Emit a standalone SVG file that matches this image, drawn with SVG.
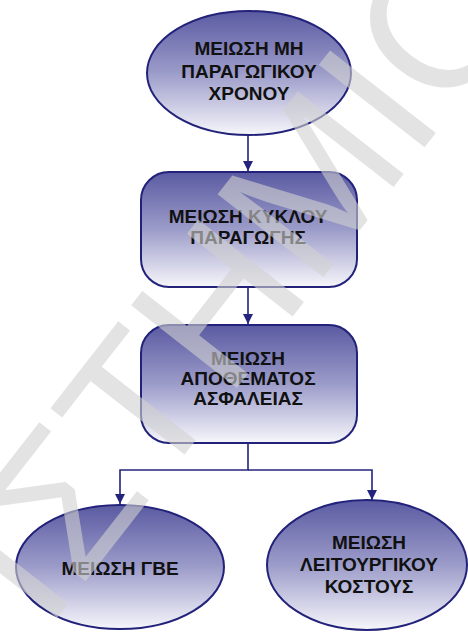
<svg xmlns="http://www.w3.org/2000/svg" width="468" height="632" viewBox="0 0 468 632">
  <defs>
    <linearGradient id="fillGrad" x1="0" y1="0" x2="0" y2="1">
      <stop offset="0" stop-color="#5a5aa2"/>
      <stop offset="0.5" stop-color="#9c9cca"/>
      <stop offset="1" stop-color="#f6f6fb"/>
    </linearGradient>
    <marker id="arrow" markerUnits="userSpaceOnUse" markerWidth="10" markerHeight="10" viewBox="0 0 9 9" refX="9" refY="4.5" orient="auto">
      <path d="M0,0 L9,4.5 L0,9 z" fill="#24247c"/>
    </marker>
    <style>
      .node { fill: url(#fillGrad); stroke: #22227a; stroke-width: 2; }
      .label { font-family: "Liberation Sans", Arial, sans-serif; font-weight: bold; font-size: 19px; fill: #111; text-anchor: middle; }
      .conn { fill: none; stroke: #24247c; stroke-width: 1.6; }
      .mark { font-family: "Liberation Sans", Arial, sans-serif; font-size: 195px; fill: #d2d2d2; opacity: 0.6; }
    </style>
  </defs>
  <rect width="468" height="632" fill="#ffffff"/>

  <g id="connectors">
    <path class="conn" d="M248,135 V171" marker-end="url(#arrow)"/>
    <path class="conn" d="M248,287 V324" marker-end="url(#arrow)"/>
    <path class="conn" d="M248,443 V470 H120 V504" marker-end="url(#arrow)"/>
    <path class="conn" d="M248,470 H372 V500" marker-end="url(#arrow)"/>
  </g>

  <g id="node-idle-time">
    <ellipse class="node" cx="249" cy="73" rx="102" ry="62"/>
    <text class="label" x="249" y="55">ΜΕΙΩΣΗ ΜΗ</text>
    <text class="label" x="249" y="77.5">ΠΑΡΑΓΩΓΙΚΟΥ</text>
    <text class="label" x="249" y="100">ΧΡΟΝΟΥ</text>
  </g>

  <g id="node-cycle">
    <rect class="node" x="141" y="172" width="216" height="115" rx="28" ry="28"/>
    <text class="label" x="248" y="223">ΜΕΙΩΣΗ ΚΥΚΛΟΥ</text>
    <text class="label" x="248" y="244">ΠΑΡΑΓΩΓΗΣ</text>
  </g>

  <g id="node-safety-stock">
    <rect class="node" x="141" y="325" width="216" height="118" rx="28" ry="28"/>
    <text class="label" x="248" y="365">ΜΕΙΩΣΗ</text>
    <text class="label" x="248" y="385">ΑΠΟΘΕΜΑΤΟΣ</text>
    <text class="label" x="248" y="405">ΑΣΦΑΛΕΙΑΣ</text>
  </g>

  <g id="node-gve">
    <ellipse class="node" cx="120" cy="567" rx="104" ry="62"/>
    <text class="label" x="120" y="575">ΜΕΙΩΣΗ ΓΒΕ</text>
  </g>

  <g id="node-operating-cost">
    <ellipse class="node" cx="367" cy="565" rx="100" ry="65"/>
    <text class="label" x="369" y="549">ΜΕΙΩΣΗ</text>
    <text class="label" x="369" y="571">ΛΕΙΤΟΥΡΓΙΚΟΥ</text>
    <text class="label" x="369" y="593">ΚΟΣΤΟΥΣ</text>
  </g>

  <!-- diagonal watermark laid over the chart -->
  <g id="watermark">
    <text class="mark" transform="translate(46,632) rotate(-52)">ΙΣΤΗΜΙΟ</text>
  </g>
</svg>
